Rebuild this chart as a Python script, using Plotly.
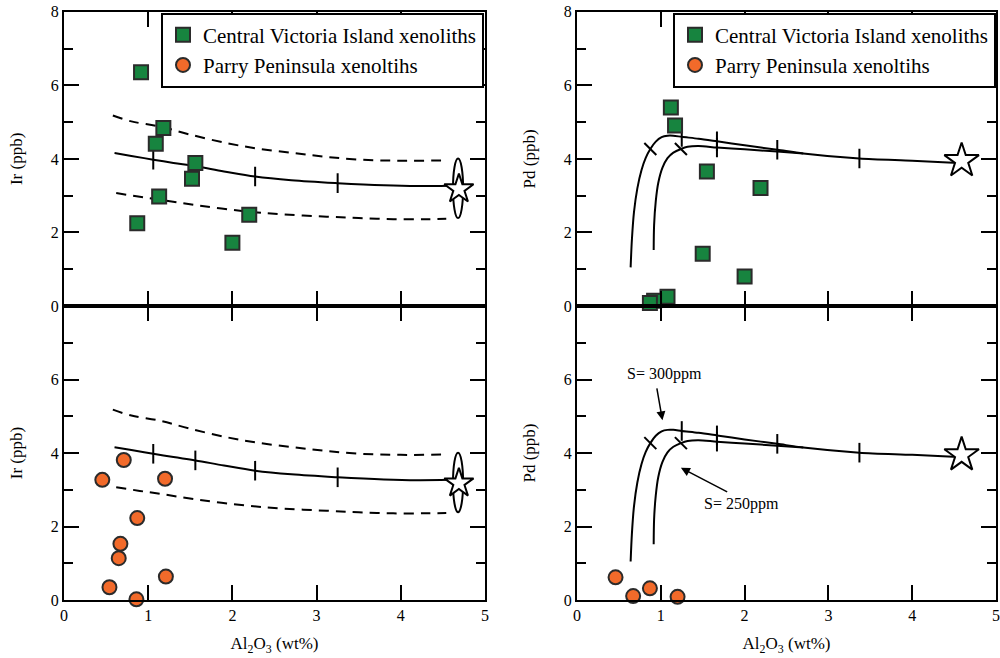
import plotly.graph_objects as go

# ---------------- data ----------------
# Central Victoria Island xenoliths (squares)
cvi_al_ir = [0.915, 1.18, 1.09, 1.56, 1.52, 1.13, 0.87, 2.20, 2.00]
cvi_ir = [6.36, 4.84, 4.41, 3.89, 3.46, 2.98, 2.25, 2.48, 1.72]
cvi_al_pd = [1.12, 1.17, 1.55, 2.19, 1.50, 2.00, 1.08, 0.92, 0.87]
cvi_pd = [5.40, 4.91, 3.66, 3.21, 1.42, 0.80, 0.25, 0.14, 0.08]

# Parry Peninsula xenoliths (circles)
pp_al_ir = [0.71, 0.455, 1.20, 0.87, 0.67, 0.65, 1.21, 0.54, 0.86]
pp_ir = [3.81, 3.27, 3.30, 2.23, 1.53, 1.14, 0.64, 0.35, 0.02]
pp_al_pd = [0.46, 0.67, 0.87, 1.20]
pp_pd = [0.62, 0.11, 0.32, 0.09]

# Ir model curves
ir_mid_x = [0.60, 0.80, 1.06, 1.30, 1.56, 1.90, 2.27, 2.70, 3.25, 3.80, 4.20, 4.58]
ir_mid_y = [4.16, 4.08, 3.98, 3.89, 3.80, 3.66, 3.52, 3.42, 3.34, 3.28, 3.26, 3.27]
ir_up_x = [0.58, 0.80, 1.14, 1.50, 1.93, 2.30, 2.72, 3.10, 3.52, 4.00, 4.56]
ir_up_y = [5.18, 5.02, 4.88, 4.66, 4.43, 4.28, 4.16, 4.06, 3.98, 3.95, 3.96]
ir_lo_x = [0.62, 0.90, 1.14, 1.60, 2.17, 2.60, 3.12, 3.50, 3.91, 4.30, 4.54]
ir_lo_y = [3.07, 2.97, 2.89, 2.73, 2.57, 2.49, 2.43, 2.39, 2.36, 2.36, 2.37]
ir_tick_x = [1.06, 1.56, 2.27, 3.25]
ir_tick_y = [3.98, 3.80, 3.52, 3.34]
ir_star = (4.69, 3.18)
ir_ellipse = (4.68, 3.20, 0.06, 0.81)  # cx, cy, half-width, half-height

# Pd model curves
pd300_x = [0.64, 0.655, 0.68, 0.72, 0.77, 0.82, 0.875, 0.94, 1.01, 1.08, 1.15, 1.25, 1.45, 1.67, 2.00, 2.39, 2.70, 3.37, 4.00, 4.55]
pd300_y = [1.05, 1.80, 2.55, 3.20, 3.70, 4.03, 4.27, 4.47, 4.59, 4.63, 4.63, 4.60, 4.55, 4.48, 4.37, 4.25, 4.15, 4.01, 3.95, 3.89]
pd250_x = [0.915, 0.92, 0.94, 0.97, 1.02, 1.08, 1.15, 1.24, 1.32, 1.45, 1.67, 2.00, 2.39, 2.70]
pd250_y = [1.52, 2.20, 2.85, 3.35, 3.76, 4.02, 4.17, 4.27, 4.33, 4.35, 4.31, 4.26, 4.20, 4.15]
pd_vtick_x = [1.25, 1.67, 1.67, 2.39, 3.37]
pd_vtick_y = [4.60, 4.48, 4.31, 4.25, 4.01]
pd_stick_x = [0.875, 1.24]
pd_stick_y = [4.27, 4.27]
pd_star = (4.59, 3.95)

GREEN = "#17843f"
ORANGE = "#f26a2a"
EDGE = "#2b2b2b"
FONT = "Liberation Serif, Times New Roman, serif"

fig = go.Figure()

def add_curves_ir(xa, ya):
    for xs, ys in ((ir_up_x, ir_up_y), (ir_lo_x, ir_lo_y)):
        fig.add_trace(go.Scatter(x=xs, y=ys, mode="lines", line=dict(color="black", width=2, dash="10px,7px", shape="spline"),
                                 showlegend=False, xaxis=xa, yaxis=ya, hoverinfo="skip"))
    fig.add_trace(go.Scatter(x=ir_mid_x, y=ir_mid_y, mode="lines", line=dict(color="black", width=2, shape="spline"),
                             showlegend=False, xaxis=xa, yaxis=ya, hoverinfo="skip"))
    fig.add_trace(go.Scatter(x=ir_tick_x, y=ir_tick_y, mode="markers",
                             marker=dict(symbol="line-ns", size=14, line=dict(color="black", width=2)),
                             showlegend=False, xaxis=xa, yaxis=ya, hoverinfo="skip"))
    fig.add_trace(go.Scatter(x=[ir_star[0]], y=[ir_star[1]], mode="markers",
                             marker=dict(symbol="star", size=22, color="white", line=dict(color="black", width=2)),
                             showlegend=False, xaxis=xa, yaxis=ya, hoverinfo="skip"))
    cx, cy, hw, hh = ir_ellipse
    fig.add_shape(type="circle", xref=xa, yref=ya, x0=cx - hw, x1=cx + hw, y0=cy - hh, y1=cy + hh,
                  line=dict(color="black", width=2), layer="below")

def add_curves_pd(xa, ya):
    for cx_, cy_ in ((pd300_x, pd300_y), (pd250_x, pd250_y)):
        fig.add_trace(go.Scatter(x=cx_, y=cy_, mode="lines", line=dict(color="black", width=2, shape="spline", smoothing=0.8),
                                 showlegend=False, xaxis=xa, yaxis=ya, hoverinfo="skip"))
    fig.add_trace(go.Scatter(x=pd_vtick_x, y=pd_vtick_y, mode="markers",
                             marker=dict(symbol="line-ns", size=14, line=dict(color="black", width=2)),
                             showlegend=False, xaxis=xa, yaxis=ya, hoverinfo="skip"))
    fig.add_trace(go.Scatter(x=pd_stick_x, y=pd_stick_y, mode="markers",
                             marker=dict(symbol="line-nw", size=12, line=dict(color="black", width=2)),
                             showlegend=False, xaxis=xa, yaxis=ya, hoverinfo="skip"))
    fig.add_trace(go.Scatter(x=[pd_star[0]], y=[pd_star[1]], mode="markers",
                             marker=dict(symbol="star", size=26, color="white", line=dict(color="black", width=2)),
                             showlegend=False, xaxis=xa, yaxis=ya, hoverinfo="skip"))

sq = dict(symbol="square", size=14, color=GREEN, line=dict(color=EDGE, width=2))
ci = dict(symbol="circle", size=14, color=ORANGE, line=dict(color=EDGE, width=2))

# top-left
add_curves_ir("x", "y")
fig.add_trace(go.Scatter(x=cvi_al_ir, y=cvi_ir, mode="markers", marker=sq, name="Central Victoria Island xenoliths",
                         xaxis="x", yaxis="y", legend="legend"))
# bottom-left
add_curves_ir("x3", "y3")
fig.add_trace(go.Scatter(x=pp_al_ir, y=pp_ir, mode="markers", marker=ci, name="Parry Peninsula xenoltihs",
                         xaxis="x3", yaxis="y3", legend="legend", cliponaxis=False))
# top-right
add_curves_pd("x2", "y2")
fig.add_trace(go.Scatter(x=cvi_al_pd, y=cvi_pd, mode="markers", marker=sq, name="Central Victoria Island xenoliths",
                         xaxis="x2", yaxis="y2", legend="legend2", cliponaxis=False))
# bottom-right
add_curves_pd("x4", "y4")
fig.add_trace(go.Scatter(x=pp_al_pd, y=pp_pd, mode="markers", marker=ci, name="Parry Peninsula xenoltihs",
                         xaxis="x4", yaxis="y4", legend="legend2", cliponaxis=False))

LX = [0.064, 0.485]
RX = [0.577, 0.996]
TY = [0.535, 0.982]
BY = [0.088, 0.535]

common = dict(showline=True, linecolor="black", linewidth=2, mirror="ticks", ticks="inside",
              ticklen=15, tickwidth=2, tickcolor="black", showgrid=False, zeroline=False, automargin=False,
              ticklabeloverflow="allow",
              tickfont=dict(family=FONT, size=16, color="black"))
xcommon = dict(common, range=[0, 5], dtick=1, tick0=0)
xtitle = dict(text="Al<sub>2</sub>O<sub>3</sub> (wt%)", font=dict(family=FONT, size=17, color="black"), standoff=14)
yminor = dict(dtick=1, ticklen=9, tickwidth=2, tickcolor="black", ticks="inside", showgrid=False)
ytfont = dict(family=FONT, size=17, color="black")

fig.update_layout(
    width=1000, height=658, margin=dict(l=0, r=0, t=0, b=0, autoexpand=False),
    paper_bgcolor="white", plot_bgcolor="white",
    xaxis=dict(xcommon, domain=LX, anchor="y", showticklabels=False),
    xaxis2=dict(xcommon, domain=RX, anchor="y2", showticklabels=False),
    xaxis3=dict(xcommon, domain=LX, anchor="y3", title=xtitle),
    xaxis4=dict(xcommon, domain=RX, anchor="y4", title=xtitle),
    yaxis=dict(common, domain=TY, anchor="x", range=[0, 8], tickvals=[0, 2, 4, 6, 8], minor=yminor,
               title=dict(text="Ir (ppb)", font=ytfont, standoff=24)),
    yaxis2=dict(common, domain=TY, anchor="x2", range=[0, 8], tickvals=[0, 2, 4, 6, 8], minor=yminor,
                title=dict(text="Pd (ppb)", font=ytfont, standoff=24)),
    yaxis3=dict(common, domain=BY, anchor="x3", range=[0, 8], tickvals=[0, 2, 4, 6], minor=yminor,
                title=dict(text="Ir (ppb)", font=ytfont, standoff=24)),
    yaxis4=dict(common, domain=BY, anchor="x4", range=[0, 8], tickvals=[0, 2, 4, 6], minor=yminor,
                title=dict(text="Pd (ppb)", font=ytfont, standoff=24)),
    legend=dict(x=0.161, y=0.981, xanchor="left", yanchor="top", bordercolor="black", borderwidth=2,
                bgcolor="white", font=dict(family=FONT, size=21, color="black"), tracegroupgap=0),
    legend2=dict(x=0.673, y=0.981, xanchor="left", yanchor="top", bordercolor="black", borderwidth=2,
                 bgcolor="white", font=dict(family=FONT, size=21, color="black"), tracegroupgap=0),
    showlegend=True,
)

# annotations (bottom-right)
fig.add_annotation(x=1.04, y=6.16, xref="x4", yref="y4", text="S= 300ppm", showarrow=False,
                   font=dict(family=FONT, size=16, color="black"))
fig.add_annotation(x=1.02, y=4.89, ax=0.95, ay=5.80, xref="x4", yref="y4", axref="x4", ayref="y4",
                   text="", showarrow=True, arrowhead=2, arrowsize=1.2, arrowwidth=1.5, arrowcolor="black")
fig.add_annotation(x=1.96, y=2.62, xref="x4", yref="y4", text="S= 250ppm", showarrow=False,
                   font=dict(family=FONT, size=16, color="black"))
fig.add_annotation(x=1.24, y=3.60, ax=1.81, ay=2.92, xref="x4", yref="y4", axref="x4", ayref="y4",
                   text="", showarrow=True, arrowhead=2, arrowsize=1.2, arrowwidth=1.5, arrowcolor="black")

fig.write_html("out.html")
